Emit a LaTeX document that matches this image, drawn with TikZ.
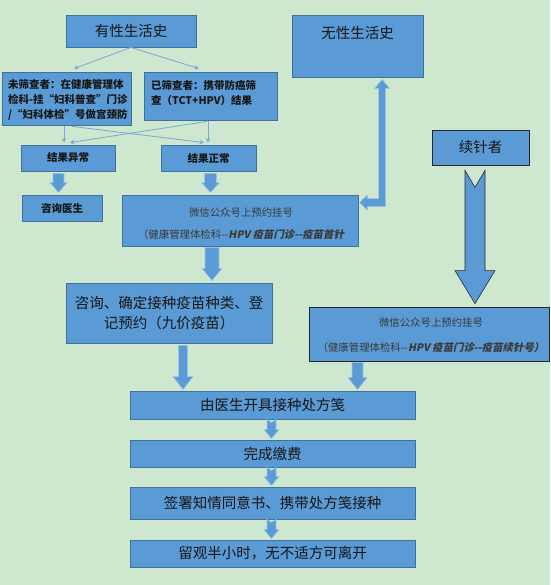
\documentclass[tikz,border=0pt]{standalone}
\usepackage{fontspec}
\setmainfont{Noto Sans CJK SC}
\newfontfamily\slcjk{Noto Sans CJK SC}[FakeSlant=0.2]
\usetikzlibrary{arrows.meta,calc}
\definecolor{bg}{RGB}{205,232,207}
\definecolor{boxblue}{RGB}{91,155,213}
\definecolor{boxline}{RGB}{65,113,156}
\definecolor{darkline}{RGB}{40,40,40}
\definecolor{arrline}{RGB}{157,195,230}
\definecolor{thinblue}{RGB}{120,168,215}
\definecolor{txt}{RGB}{22,22,22}
\newcommand\blockdn[7]{%
  \draw[barrow,#7] let \p1=#1, \p2=#2 in
    (\x1-#3,\y1) -- (\x1,\y1-#6) -- (\x1+#3,\y1) -- (\x1+#3,\y2+#5) -- (\x1+#4,\y2+#5)
    -- (\x1,\y2) -- (\x1-#4,\y2+#5) -- (\x1-#3,\y2+#5) -- cycle;}
\begin{document}
\begin{tikzpicture}[x=1pt,y=-1pt,
  box/.style={draw=boxline, line width=0.8pt, fill=boxblue, inner sep=0pt, text=txt, align=center},
  bigf/.style={font=\fontsize{14.5}{20}\selectfont},
  smallf/.style={font=\fontsize{10.5}{15}\selectfont\bfseries},
  wxf/.style={font=\fontsize{10.4}{22}\selectfont, text=txt!85!white},
  barrow/.style={fill=boxblue, draw=arrline, line width=0.6pt, line join=miter},
  thinarrow/.style={draw=thinblue, line width=0.8pt, -{Stealth[length=4.5pt,width=4.5pt]}},
  txtnode/.style={inner sep=0pt, text=txt}
]
\fill[bg] (0,0) rectangle (550,585);
\useasboundingbox (0,0) rectangle (550,585);

% boxes
\node[box, minimum width=130, minimum height=32, bigf] (yes) at (131,31) {有性生活史};
\node[box, minimum width=129, minimum height=53] (unscr) at (66.5,98.5) {};
\node[txtnode, smallf, anchor=west, align=left] (unscrt) at (8,100)
  {未筛查者：在健康管理体\\检科-挂“妇科普查”门诊\\/“妇科体检”号做宫颈防};
\node[box, minimum width=133, minimum height=48] (scr) at (210.5,96) {};
\node[txtnode, smallf, anchor=west, align=left] (scrt) at (151,92.5) {已筛查者：携带防癌筛\\查（TCT+HPV）结果};
\node[box, minimum width=131, minimum height=62] (no) at (357.5,46) {};
\node[txtnode, bigf] (not) at (357.5,33) {无性生活史};
\node[box, draw=darkline, minimum width=97, minimum height=35, bigf] (cont) at (480.5,147.5) {续针者};
\node[box, minimum width=94, minimum height=26, smallf] (abn) at (68,158) {结果异常};
\node[box, minimum width=95, minimum height=26, smallf] (norm) at (208.5,158) {结果正常};
\node[box, minimum width=80, minimum height=26, smallf] (doc) at (62,208) {咨询医生};
\node[box, minimum width=236, minimum height=51] (wx1) at (240,220.5) {};
\node[txtnode, wxf, align=center] (wx1t) at (241,224)
  {微信公众号上预约挂号\\（健康管理体检科{-}{-}{\slcjk\bfseries HPV 疫苗门诊{-}{-}疫苗首针}};
\node[box, minimum width=206, minimum height=60, bigf] (cons) at (169,313)
  {咨询、确定接种疫苗种类、登\\记预约（九价疫苗）};
\node[box, draw=darkline, minimum width=240, minimum height=54] (wx2) at (429,334) {};
\node[txtnode, wxf, font=\fontsize{10.4}{25}\selectfont, align=center] (wx2t) at (431,335.5)
  {微信公众号上预约挂号\\（健康管理体检科{-}{-}{\slcjk\bfseries HPV 疫苗门诊{-}{-}疫苗续针号）}};
\node[box, minimum width=285, minimum height=28, bigf] (rx) at (272.5,405) {由医生开具接种处方笺};
\node[box, minimum width=285, minimum height=27, bigf] (pay) at (272.5,453.5) {完成缴费};
\node[box, minimum width=285, minimum height=32, bigf] (sign) at (272.5,503) {签署知情同意书、携带处方笺接种};
\node[box, minimum width=285, minimum height=27, bigf] (obs) at (272.5,553.5) {留观半小时，无不适方可离开};

% thin connectors
\draw[thinarrow] (yes.south) -- ($(unscr.north)+(7.5,-3)$);
\draw[thinarrow] (yes.south) -- ($(scr.north)+(-11.5,-3)$);
\draw[thinarrow] ($(unscr.south)+(-2.5,1)$) -- ($(abn.north)+(-4,-2)$);
\draw[thinarrow] ($(unscr.south)+(5.5,1)$) -- ($(norm.north)+(-4.5,-2)$);
\draw[thinarrow] ($(scr.south)+(-3.5,1)$) -- ($(abn.north)+(2,-2)$);
\draw[thinarrow] ($(scr.south)+(-2.5,1)$) -- ($(norm.north)+(-0.5,-2)$);

% block arrows
\blockdn{($(abn.south)+(-9.5,2)$)}{($(doc.north)+(0,-2)$)}{5.5pt}{8.5pt}{10pt}{0pt}{}
\blockdn{($(norm.south)+(2,2)$)}{($(wx1.north)+(0,-2)$)}{6pt}{9pt}{10pt}{0pt}{}
\blockdn{($(wx1.south)+(-28,1)$)}{($(cons.north)+(0,-2)$)}{7pt}{10pt}{12pt}{0pt}{}
\blockdn{($(cons.south)+(14,2)$)}{($(rx.north)+(0,-1)$)}{4.5pt}{10pt}{13pt}{0pt}{}
\blockdn{($(wx2.south)+(-71.5,1)$)}{($(rx.north)+(0,-1)$)}{5.5pt}{9.5pt}{12pt}{0pt}{}
\blockdn{($(cont.south)+(-5.5,5)$)}{($(wx2.north)+(0,-3)$)}{10pt}{20pt}{33pt}{17pt}{draw=darkline}
\blockdn{($(rx.south)+(-1,0)$)}{($(pay.north)+(0,-1)$)}{4.5pt}{7.5pt}{9pt}{3pt}{}
\blockdn{($(pay.south)+(-1,0)$)}{($(sign.north)+(0,-1)$)}{4.5pt}{7.5pt}{9pt}{3pt}{}
\blockdn{($(sign.south)+(-1,0)$)}{($(obs.north)+(0,-1)$)}{4.5pt}{7.5pt}{9pt}{3pt}{}

% bent double arrow between wx1 and no
\coordinate (bl) at ($(wx1.north east)+(1,8)$);
\coordinate (bt) at ($(no.south west)+(90.5,2)$);
\draw[barrow] let \p1=(bl), \p2=(bt) in
  (\p1) -- (\x1+8pt,\y1+7.5pt) -- (\x1+8pt,\y1+4pt) -- (\x2-3.5pt,\y1+4pt)
  -- (\x2-3.5pt,\y2-9pt) -- (\x2-7.5pt,\y2-9pt) -- (\p2) -- (\x2+7.5pt,\y2-9pt)
  -- (\x2+3.5pt,\y2-9pt) -- (\x2+3.5pt,\y1-4pt) -- (\x1+8pt,\y1-4pt) -- (\x1+8pt,\y1-7.5pt) -- cycle;
\end{tikzpicture}
\end{document}
